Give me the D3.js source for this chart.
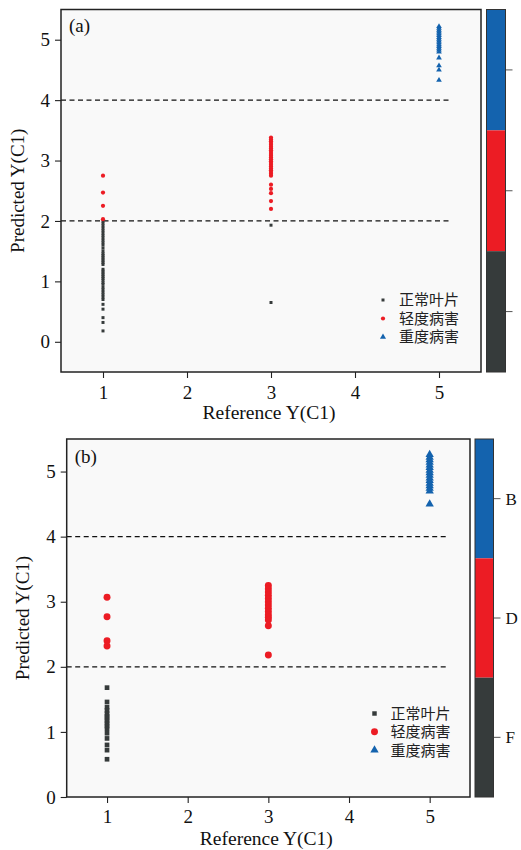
<!DOCTYPE html>
<html><head><meta charset="utf-8">
<script src="https://cdn.jsdelivr.net/npm/d3@7"></script>
<style>body{margin:0;background:#fff}svg{display:block}</style>
</head><body>
<script>
// ---------------- DATA ----------------
const classNames = ["正常叶片", "轻度病害", "重度病害"];
const classColors = ["#363b3b", "#ec1c24", "#1463ae"];
const xTicks = [1, 2, 3, 4, 5];
const yTicks = [0, 1, 2, 3, 4, 5];
const thresholds = [2, 4];
const colorbarLabelsA = ["", "", ""];          // top→bottom (labels not shown in a)
const colorbarLabelsB = ["B", "D", "F"];        // top→bottom

// Panel (a) – predicted values grouped by reference class value
const aNormalAt1 = [0.18,0.32,0.40,0.54,0.62,0.70,0.74,0.78,0.82,0.86,0.90,0.95,0.98,1.02,1.05,1.08,1.11,1.14,1.17,1.20,1.28,1.31,1.34,1.37,1.40,1.43,1.46,1.50,1.55,1.60,1.64,1.68,1.72,1.76,1.80,1.84,1.88,1.92,1.96,2.00];
const aNormalAt3 = [1.93, 0.65];
const aMildAt1 = [2.75, 2.47, 2.25, 2.03];
const aMildAt3 = [3.38,3.35,3.32,3.29,3.26,3.23,3.20,3.17,3.14,3.11,3.08,3.05,3.02,2.99,2.96,2.93,2.90,2.87,2.84,2.81,2.78,2.75,2.60,2.53,2.46,2.33,2.20];
const aSevereAt5 = [5.22,5.19,5.16,5.13,5.10,5.07,5.04,5.01,4.98,4.95,4.92,4.89,4.86,4.83,4.80,4.70,4.57,4.50,4.33];

// Panel (b)
const bNormalAt1 = [1.68,1.46,1.38,1.33,1.28,1.24,1.21,1.17,1.13,1.09,1.05,0.98,0.90,0.80,0.72,0.58];
const bMildAt1 = [3.07, 2.77, 2.40, 2.32];
const bMildAt3 = [3.25,3.20,3.15,3.10,3.05,3.00,2.95,2.90,2.85,2.80,2.76,2.72,2.63,2.18];
const bSevereAt5 = [5.26,5.22,5.18,5.14,5.10,5.06,5.02,4.98,4.94,4.90,4.86,4.82,4.78,4.74,4.70,4.50];

// ---------------- DRAW ----------------
const W = 521, H = 850;
const svg = d3.select("body").append("svg").attr("width", W).attr("height", H);
const serif = "'Liberation Serif','Times New Roman',serif";
const cjk = "'Noto Sans CJK SC','Noto Sans CJK JP',sans-serif";

function toPoints(vals, x, cls) { return vals.map(v => ({x: x, y: v, c: cls})); }

function drawPanel(cfg) {
  const g = svg.append("g");
  const x = d3.scaleLinear().domain([0.5, 5.5]).range([cfg.left, cfg.right]);
  const y = d3.scaleLinear().domain(cfg.yDomain).range([cfg.bottom, cfg.top]);

  g.append("rect").attr("x", cfg.left).attr("y", cfg.top)
    .attr("width", cfg.right - cfg.left).attr("height", cfg.bottom - cfg.top)
    .attr("fill", "#f9f9f9");

  // dashed thresholds
  thresholds.forEach(t => {
    g.append("line").attr("x1", x(0.5)).attr("x2", x(cfg.dashEnd))
      .attr("y1", y(t)).attr("y2", y(t))
      .attr("stroke", "#111").attr("stroke-width", 1.2).attr("stroke-dasharray", "5,3.5");
  });

  // points
  const sym = [d3.symbolSquare, d3.symbolCircle, d3.symbolTriangle];
  cfg.points.forEach(p => {
    g.append("path")
      .attr("d", d3.symbol().type(sym[p.c]).size(cfg.sizes[p.c])())
      .attr("transform", `translate(${x(p.x)},${y(p.y)})`)
      .attr("fill", classColors[p.c]);
  });

  // axes
  const xAxis = g.append("g").attr("transform", `translate(0,${cfg.bottom})`)
    .call(d3.axisBottom(x).tickValues(xTicks).tickSize(6).tickPadding(cfg.xPad).tickFormat(d3.format("d")));
  const yAxis = g.append("g").attr("transform", `translate(${cfg.left},0)`)
    .call(d3.axisLeft(y).tickValues(yTicks).tickSize(6).tickPadding(5).tickFormat(d3.format("d")));
  [xAxis, yAxis].forEach(a => {
    a.select(".domain").remove();
    a.selectAll("line").attr("stroke", "#222").attr("stroke-width", 1.1);
    a.selectAll("text").attr("font-family", serif).attr("font-size", 19).attr("fill", "#111");
  });

  // frame
  g.append("rect").attr("x", cfg.left).attr("y", cfg.top)
    .attr("width", cfg.right - cfg.left).attr("height", cfg.bottom - cfg.top)
    .attr("fill", "none").attr("stroke", "#222").attr("stroke-width", 1.5);

  // panel label
  g.append("text").attr("x", cfg.left + 8).attr("y", cfg.top + cfg.labelDy)
    .attr("font-family", serif).attr("font-size", 19).attr("fill", "#111").text(cfg.label);

  // axis titles
  g.append("text").attr("x", (cfg.left + cfg.right) / 2 - 2).attr("y", cfg.xTitleY)
    .attr("text-anchor", "middle").attr("font-family", serif).attr("font-size", 19.5).attr("fill", "#111")
    .text("Reference Y(C1)");
  g.append("text").attr("transform", `translate(${cfg.yTitleX},${(cfg.top + cfg.bottom) / 2})rotate(-90)`)
    .attr("text-anchor", "middle").attr("font-family", serif).attr("font-size", 19).attr("fill", "#111")
    .text("Predicted Y(C1)");

  // legend
  classNames.forEach((name, i) => {
    const ly = cfg.legendY + i * cfg.legendStep;
    g.append("path").attr("d", d3.symbol().type(sym[i]).size(cfg.legendSizes[i])())
      .attr("transform", `translate(${cfg.legendX},${ly})`).attr("fill", classColors[i]);
    g.append("text").attr("x", cfg.legendX + 16).attr("y", ly).attr("dy", "0.36em")
      .attr("font-family", cjk).attr("font-size", 15).attr("fill", "#222").text(name);
  });

  // colorbar
  const cb = d3.scaleBand().domain([0, 1, 2]).range([cfg.top, cfg.bottom]).padding(0);
  const cbColors = [classColors[2], classColors[1], classColors[0]];
  [0, 1, 2].forEach(i => {
    g.append("rect").attr("x", cfg.cbLeft).attr("y", cb(i)).attr("width", cfg.cbWidth)
      .attr("height", cb.bandwidth()).attr("fill", cbColors[i]);
    const ty = cb(i) + cb.bandwidth() / 2;
    g.append("line").attr("x1", cfg.cbLeft + cfg.cbWidth).attr("x2", cfg.cbLeft + cfg.cbWidth + 7)
      .attr("y1", ty).attr("y2", ty).attr("stroke", "#555").attr("stroke-width", 1);
    if (cfg.cbLabels[i]) {
      g.append("text").attr("x", cfg.cbLeft + cfg.cbWidth + 12).attr("y", ty).attr("dy", "0.35em")
        .attr("font-family", serif).attr("font-size", 17).attr("fill", "#111").text(cfg.cbLabels[i]);
    }
  });
  g.append("rect").attr("x", cfg.cbLeft).attr("y", cfg.top).attr("width", cfg.cbWidth)
    .attr("height", cfg.bottom - cfg.top).attr("fill", "none").attr("stroke", "#333").attr("stroke-width", 1);
}

drawPanel({
  left: 61, right: 481, top: 9.5, bottom: 372, yDomain: [-0.5, 5.5], dashEnd: 5.14,
  sizes: [9, 14, 14], legendSizes: [9, 14, 16], xPad: 8,
  points: [].concat(toPoints(aNormalAt1, 1, 0), toPoints(aNormalAt3, 3, 0),
                    toPoints(aMildAt1, 1, 1), toPoints(aMildAt3, 3, 1), toPoints(aSevereAt5, 5, 2)),
  label: "(a)", labelDy: 22,
  xTitleY: 418.5, yTitleX: 24,
  legendX: 383, legendY: 300, legendStep: 18.5,
  cbLeft: 486.5, cbWidth: 19, cbLabels: colorbarLabelsA
});

drawPanel({
  left: 66.7, right: 470, top: 439, bottom: 797, yDomain: [0, 5.5], dashEnd: 5.24,
  sizes: [22, 38, 30], legendSizes: [20, 38, 30], xPad: 7,
  points: [].concat(toPoints(bNormalAt1, 1, 0), toPoints(bMildAt1, 1, 1),
                    toPoints(bMildAt3, 3, 1), toPoints(bSevereAt5, 5, 2)),
  label: "(b)", labelDy: 24,
  xTitleY: 845, yTitleX: 29,
  legendX: 374.5, legendY: 713.5, legendStep: 18.3,
  cbLeft: 475, cbWidth: 18.5, cbLabels: colorbarLabelsB
});
</script>
</body></html>
